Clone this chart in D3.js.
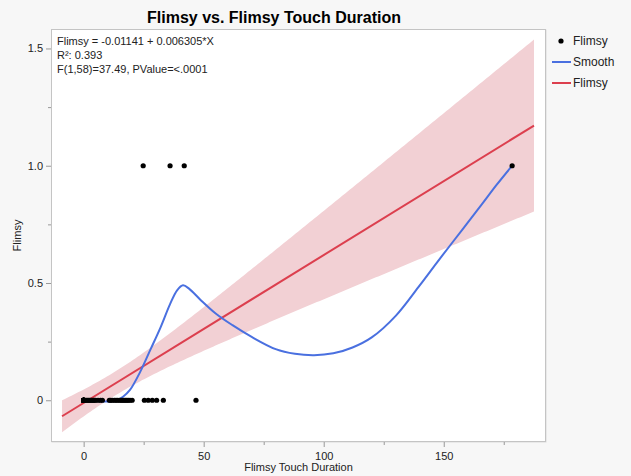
<!DOCTYPE html>
<html>
<head>
<meta charset="utf-8">
<script src="https://cdn.jsdelivr.net/npm/d3@7"></script>
<style>
  html, body { margin: 0; padding: 0; background: #f7f7f7; }
  svg { display: block; font-family: "Liberation Sans", Arial, Helvetica, sans-serif; }
</style>
</head>
<body>
<svg id="chart" width="631" height="476"></svg>
<script>
// Flimsy (0/1) observations by touch duration
const flimsyOneX = [24.8, 36.0, 41.9, 178.5];
const flimsyZeroX = [
  0, 0, 0, 0, 0, 0, 0, 0, 0, 0, 0, 0, 0, 0, 0, 0, 0, 0, 0, 0, 0, 0,
  0.5, 1, 1.5, 2, 2.5, 3, 3.5, 4, 4.5, 5, 6, 7, 7.8,
  10.7, 11.3, 12.0, 12.8, 13.5, 14.2, 15.0, 15.6, 16.2, 16.8, 17.4, 18.0, 18.6, 19.3, 20.2,
  25.3, 26.9, 28.6, 30.4, 33.2, 46.8
];

// Linear fit reported in the annotation
const fitIntercept = -0.01141;
const fitSlope = 0.006305;
const fitRange = [-9, 187.6];
const fitLines = [
  "Flimsy = -0.01141 + 0.006305*X",
  "R\u00b2: 0.393",
  "F(1,58)=37.49, PValue=<.0001"
];

// Smoother curve (sampled)
const smoothX = [0, 5, 10, 13.7, 16.4, 19.3, 23.5, 28, 32, 36, 39, 41.4, 44, 48.5, 55, 62, 70, 80, 88, 96, 104, 112, 120, 130, 140, 147, 154, 160, 166, 172, 178.5];
const smoothY = [0, -0.003, -0.005, 0, 0.015, 0.044, 0.12, 0.22, 0.31, 0.41, 0.47, 0.49, 0.475, 0.43, 0.37, 0.32, 0.27, 0.218, 0.198, 0.192, 0.2, 0.225, 0.268, 0.36, 0.49, 0.585, 0.678, 0.757, 0.837, 0.918, 1.0];

// Axis ticks
const xMajor = [0, 50, 100, 150];
const xMinor = [25, 75, 125, 175];
const yMajor = [0, 0.5, 1.0, 1.5];
const yMinor = [0.25, 0.75, 1.25];
const yTickLabels = ["0", "0.5", "1.0", "1.5"];

const points = flimsyZeroX.map(x => ({x, y: 0})).concat(flimsyOneX.map(x => ({x, y: 1})));

const svg = d3.select("#chart");
const frame = {left: 51, top: 29, right: 546, bottom: 442};

const x = d3.scaleLinear().domain([-13.6, 192.6]).range([frame.left, frame.right]);
const y = d3.scaleLinear().domain([-0.178, 1.583]).range([frame.bottom, frame.top]);

// Plot frame
svg.append("rect")
  .attr("x", frame.left + 0.5).attr("y", frame.top + 0.5)
  .attr("width", frame.right - frame.left).attr("height", frame.bottom - frame.top)
  .attr("fill", "#dcdcdc");
svg.append("rect")
  .attr("x", frame.left + 0.5).attr("y", frame.top + 0.5)
  .attr("width", frame.right - frame.left - 1).attr("height", frame.bottom - frame.top - 1)
  .attr("fill", "#ffffff").attr("stroke", "#c4c4c4").attr("stroke-width", 1);

const clip = svg.append("clipPath").attr("id", "plotclip")
  .append("rect").attr("x", frame.left + 1).attr("y", frame.top + 1)
  .attr("width", frame.right - frame.left - 2).attr("height", frame.bottom - frame.top - 2);
const plot = svg.append("g").attr("clip-path", "url(#plotclip)");

// Confidence band of the fitted mean, from the data and the fitted line
const n = points.length;
const xbar = d3.mean(points, d => d.x);
const sxx = d3.sum(points, d => (d.x - xbar) ** 2);
const sse = d3.sum(points, d => (d.y - (fitIntercept + fitSlope * d.x)) ** 2);
const s = Math.sqrt(sse / (n - 2));
const tCrit = 2.0017;
const bandXs = d3.range(0, 201).map(i => fitRange[0] + (fitRange[1] - fitRange[0]) * i / 200);
const band = bandXs.map(v => {
  const m = fitIntercept + fitSlope * v;
  const h = tCrit * s * Math.sqrt(1 / n + (v - xbar) ** 2 / sxx);
  return {x: v, lo: m - h, hi: m + h};
});
plot.append("path")
  .datum(band)
  .attr("fill", "#f2d0d4")
  .attr("d", d3.area().x(d => x(d.x)).y0(d => y(d.lo)).y1(d => y(d.hi)));

// Fitted line
plot.append("line")
  .attr("x1", x(fitRange[0])).attr("y1", y(fitIntercept + fitSlope * fitRange[0]))
  .attr("x2", x(fitRange[1])).attr("y2", y(fitIntercept + fitSlope * fitRange[1]))
  .attr("stroke", "#dc3f4e").attr("stroke-width", 2);

// Smoother
const smooth = smoothX.map((v, i) => [v, smoothY[i]]);
plot.append("path")
  .datum(smooth)
  .attr("fill", "none")
  .attr("stroke", "#4a70e0").attr("stroke-width", 2)
  .attr("d", d3.line().x(d => x(d[0])).y(d => y(d[1])).curve(d3.curveCatmullRom.alpha(0.5)));

// Observations
plot.selectAll("circle.pt")
  .data(points)
  .join("circle")
  .attr("class", "pt")
  .attr("cx", d => x(d.x)).attr("cy", d => y(d.y))
  .attr("r", 2.6).attr("fill", "#000");

// Fit annotation
svg.append("g").selectAll("text")
  .data(fitLines)
  .join("text")
  .attr("x", 57).attr("y", (d, i) => 45 + i * 14)
  .attr("font-size", 11).attr("fill", "#222")
  .text(d => d);

// Axes
const tickColor = "#999";
const yAxis = svg.append("g").attr("transform", `translate(${frame.left},0)`)
  .call(d3.axisLeft(y).tickValues(yMajor).tickSize(5).tickPadding(3)
    .tickFormat((d, i) => yTickLabels[i]));
const yAxisMinor = svg.append("g").attr("transform", `translate(${frame.left},0)`)
  .call(d3.axisLeft(y).tickValues(yMinor).tickSize(3).tickFormat(""));
const xAxis = svg.append("g").attr("transform", `translate(0,${frame.bottom})`)
  .call(d3.axisBottom(x).tickValues(xMajor).tickSize(5).tickPadding(5).tickFormat(d3.format("d")));
const xAxisMinor = svg.append("g").attr("transform", `translate(0,${frame.bottom})`)
  .call(d3.axisBottom(x).tickValues(xMinor).tickSize(3).tickFormat(""));
[yAxis, yAxisMinor, xAxis, xAxisMinor].forEach(g => {
  g.select(".domain").remove();
  g.selectAll(".tick line").attr("stroke", tickColor);
  g.selectAll(".tick text").attr("font-size", 11).attr("fill", "#222")
    .attr("font-family", "\"Liberation Sans\", Arial, sans-serif");
});

// Titles
svg.append("text")
  .attr("x", 274).attr("y", 23).attr("text-anchor", "middle")
  .attr("font-size", 16).attr("font-weight", "bold").attr("fill", "#000")
  .text("Flimsy vs. Flimsy Touch Duration");
svg.append("text")
  .attr("x", (frame.left + frame.right) / 2).attr("y", 471).attr("text-anchor", "middle")
  .attr("font-size", 11).attr("fill", "#222")
  .text("Flimsy Touch Duration");
svg.append("text")
  .attr("transform", `translate(21,${(frame.top + frame.bottom) / 2}) rotate(-90)`)
  .attr("text-anchor", "middle")
  .attr("font-size", 11).attr("fill", "#222")
  .text("Flimsy");

// Legend
const legend = svg.append("g").attr("font-size", 12).attr("fill", "#222");
legend.append("circle").attr("cx", 561).attr("cy", 41).attr("r", 2.6).attr("fill", "#000");
legend.append("text").attr("x", 573).attr("y", 45).text("Flimsy");
legend.append("line").attr("x1", 552).attr("x2", 571).attr("y1", 62).attr("y2", 62)
  .attr("stroke", "#4a70e0").attr("stroke-width", 2);
legend.append("text").attr("x", 573).attr("y", 66).text("Smooth");
legend.append("line").attr("x1", 552).attr("x2", 571).attr("y1", 83).attr("y2", 83)
  .attr("stroke", "#dc3f4e").attr("stroke-width", 2);
legend.append("text").attr("x", 573).attr("y", 87).text("Flimsy");
</script>
</body>
</html>
